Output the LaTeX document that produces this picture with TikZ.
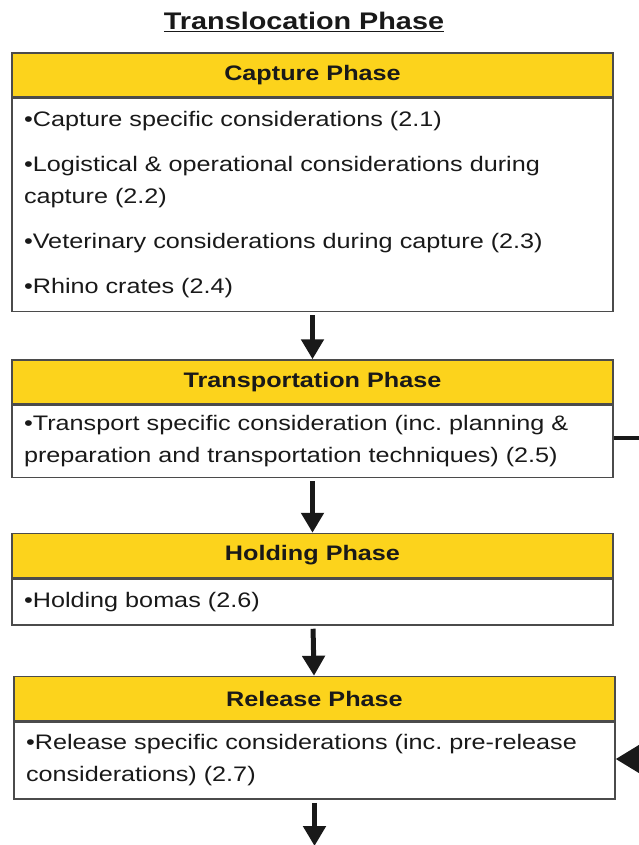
\documentclass[tikz,border=0pt]{standalone}
\usepackage{fontspec}
\setmainfont{Liberation Sans}[FakeStretch=1.2]
\usetikzlibrary{positioning}
\usetikzlibrary{arrows.meta}
\definecolor{phaseyellow}{RGB}{252,211,28}
\definecolor{boxgrey}{RGB}{75,75,75}
\definecolor{inkblack}{RGB}{25,25,25}
\frenchspacing

\begin{document}
\begin{tikzpicture}[x=1pt,y=1pt]
        \tikzstyle{hnode} = [draw=boxgrey, line width=1.5pt, fill=phaseyellow, rectangle, minimum width=601pt, minimum height=44pt, inner sep=0pt, text=inkblack, font=\fontsize{21}{25}\selectfont\bfseries]
        \tikzstyle{bnode} = [draw=boxgrey, line width=1.5pt, fill=white, rectangle, text width=577pt, inner xsep=12pt, inner ysep=0pt, align=left, text=inkblack, font=\fontsize{21}{32}\selectfont]
        \tikzstyle{flow} = [-{Triangle[width=22pt,length=20pt]}, line width=5pt, draw=inkblack, shorten <=3pt]

        \useasboundingbox (0,0) rectangle (638,-845);

        \node[text=inkblack, font=\fontsize{24}{28}\selectfont\bfseries] (title) at (304,-22) {\underline{Translocation Phase}};

        \node[hnode] (caph) at (312.5,-75) {Capture Phase};
        \node[bnode, minimum height=213pt, below=0pt of caph] (capb) {%
          •Capture specific considerations (2.1)\\[13pt]
          •Logistical \& operational considerations during\\
          capture (2.2)\\[13pt]
          •Veterinary considerations during capture (2.3)\\[13pt]
          •Rhino crates (2.4)};

        \node[hnode] (trah) at (312.5,-382) {Transportation Phase};
        \node[bnode, minimum height=72pt, below=0pt of trah] (trab) {%
          •Transport specific consideration (inc. planning \&\\
          preparation and transportation techniques) (2.5)};

        \node[hnode] (holh) at (312.5,-555.5) {Holding Phase};
        \node[bnode, minimum height=46pt, below=0pt of holh] (holb) {%
          •Holding bomas (2.6)};

        \node[hnode] (relh) at (314.5,-698.5) {Release Phase};
        \node[bnode, minimum height=77pt, below=0pt of relh] (relb) {%
          •Release specific considerations (inc. pre-release\\
          considerations) (2.7)};

        \coordinate (traout) at (650,-438);
        \coordinate (relin) at (650,-759);
        \coordinate (relout) at (314.5,-846);

        \draw[flow] (capb) -- (trah);
        \draw[flow] (trab) -- (holh);
        \draw[flow] (holb) -- (relh);
        \draw[flow] (relb) -- (relout);
        \draw[line width=4pt, draw=inkblack] (trab.east |- traout) -- (traout);
        \draw[-{Triangle[width=28pt,length=24pt]}, line width=4pt, draw=inkblack] (relin) -- (relb.east |- relin);
      \end{tikzpicture}
\end{document}
